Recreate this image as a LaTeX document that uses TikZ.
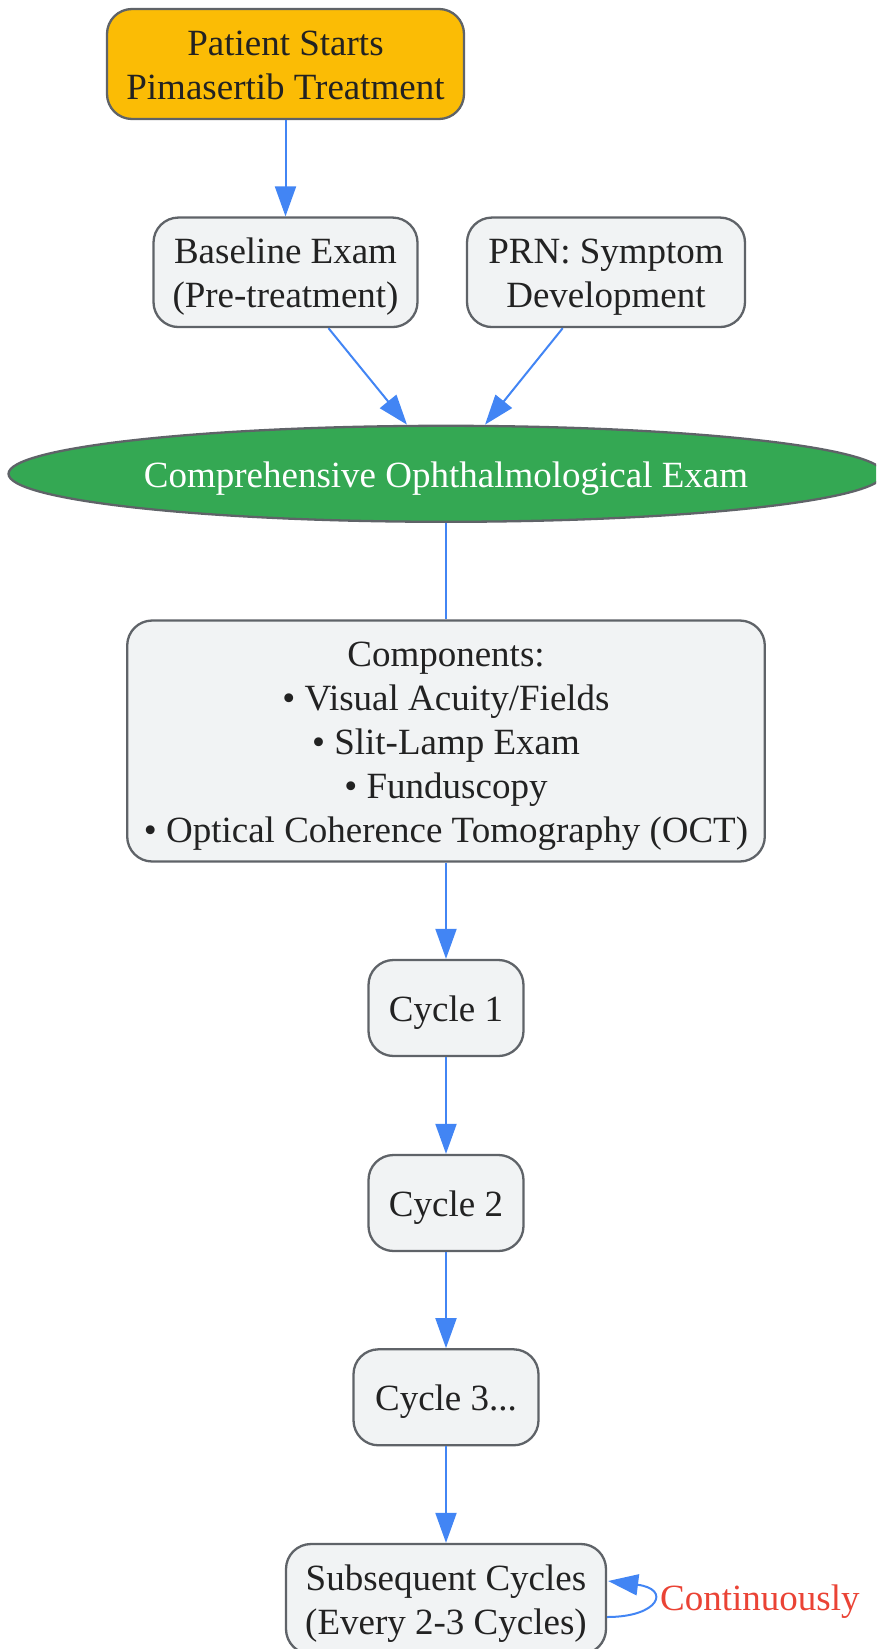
\documentclass[tikz,border=0pt]{standalone}
\usepackage{fontspec}
\setmainfont{Liberation Serif}
\usetikzlibrary{arrows.meta,shapes.geometric}
\definecolor{startfill}{HTML}{FBBC05}
\definecolor{boxfill}{HTML}{F1F3F4}
\definecolor{boxdraw}{HTML}{5F6368}
\definecolor{ellfill}{HTML}{34A853}
\definecolor{arrowblue}{HTML}{4285F4}
\definecolor{labelred}{HTML}{EA4335}
\definecolor{txt}{HTML}{222222}
\newcommand{\tstrut}{\rule{0pt}{37pt}}
\newcommand{\bstrut}{\rule[-10pt]{0pt}{10pt}}
\tikzset{
  box/.style={draw=boxdraw, line width=2.3pt, fill=boxfill, rounded corners=25pt,
    inner sep=0pt, align=center, text=txt,
    font=\fontsize{37}{44}\selectfont},
  startbox/.style={box, fill=startfill},
  ellbox/.style={ellipse, draw=boxdraw, line width=2.3pt, fill=ellfill, inner sep=0pt,
    text=white, font=\fontsize{37}{44}\selectfont},
  flow/.style={draw=arrowblue, line width=2pt, -{Triangle[length=30pt,width=21pt]}},
  plainflow/.style={draw=arrowblue, line width=2pt},
  looplabel/.style={text=labelred, inner sep=0pt, anchor=west, font=\fontsize{37}{44}\selectfont}
}
\begin{document}
\begin{tikzpicture}[x=1pt,y=1pt]
\useasboundingbox (0,0) rectangle (876,-1649);
\clip (0,0) rectangle (876,-1649);
\node[startbox, minimum width=357pt, minimum height=110pt] (start) at (285.5,-64) {\tstrut Patient Starts\\Pimasertib Treatment\bstrut};
\node[box, minimum width=264pt, minimum height=109.5pt] (base) at (285.5,-272.3) {\tstrut Baseline Exam\\(Pre-treatment)\bstrut};
\node[box, minimum width=278pt, minimum height=109.5pt] (prn) at (606,-272.3) {\tstrut PRN: Symptom\\Development\bstrut};
\node[ellbox, minimum width=875pt, minimum height=96pt] (ell) at (446,-473.8) {\tstrut Comprehensive Ophthalmological Exam\bstrut};
\node[box, minimum width=637.6pt, minimum height=241pt] (comp) at (446,-741) {\tstrut Components:\\• Visual Acuity/Fields\\• Slit-Lamp Exam\\• Funduscopy\\• Optical Coherence Tomography (OCT)\bstrut};
\node[box, minimum width=155pt, minimum height=96pt] (c1) at (446,-1008) {\tstrut Cycle 1\bstrut};
\node[box, minimum width=155pt, minimum height=96pt] (c2) at (446,-1203) {\tstrut Cycle 2\bstrut};
\node[box, minimum width=185pt, minimum height=96pt] (c3) at (446,-1397.3) {\tstrut Cycle 3...\bstrut};
\node[box, minimum width=320pt, minimum height=110pt] (sub) at (446,-1599) {\tstrut Subsequent Cycles\\(Every 2-3 Cycles)\bstrut};
\node[looplabel] (lbl) at (660,-1597) {\tstrut Continuously\bstrut};

\draw[flow] (start) -- (base);
\draw[flow] ([xshift=43pt]base.south) -- ([xshift=-39pt]ell.north);
\draw[flow] ([xshift=-43.3pt]prn.south) -- ([xshift=39pt]ell.north);
\draw[plainflow] (ell.south) -- (comp.north);
\draw[flow] (comp.south) -- (c1.north);
\draw[flow] (c1) -- (c2);
\draw[flow] (c2) -- (c3);
\draw[flow] (c3) -- (sub);
\draw[flow] ([yshift=-18pt]sub.east) .. controls ([xshift=52pt,yshift=-18pt]sub.east) and ([xshift=64pt,yshift=10pt]sub.east) .. ([xshift=1pt,yshift=18pt]sub.east);
\end{tikzpicture}
\end{document}
